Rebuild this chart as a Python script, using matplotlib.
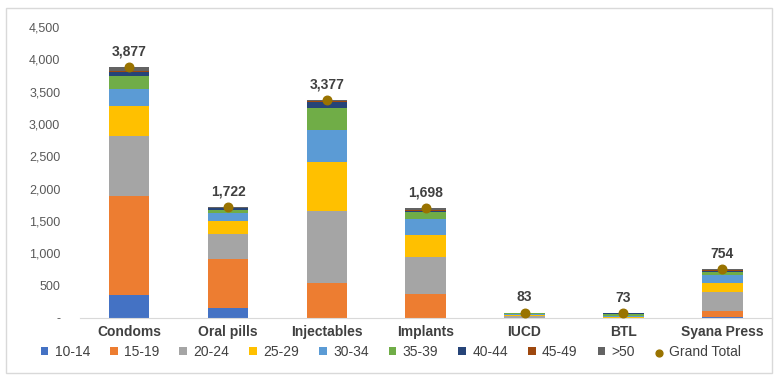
import numpy as np
import matplotlib.pyplot as plt
from matplotlib.ticker import FuncFormatter

plt.rcParams['font.family'] = ['Liberation Sans', 'DejaVu Sans']

methods = ["Condoms", "Oral pills", "Injectables", "Implants", "IUCD", "BTL", "Syana Press"]
age_groups = ["10-14", "15-19", "20-24", "25-29", "30-34", "35-39", "40-44", "45-49", ">50"]

# values per age group, one entry per method
a10_14 = [356, 160, 0, 0, 0, 0, 10]
a15_19 = [1533, 753, 537, 367, 5, 0, 100]
a20_24 = [918, 382, 1124, 582, 20, 5, 290]
a25_29 = [464, 207, 749, 336, 20, 10, 148]
a30_34 = [269, 128, 490, 247, 15, 20, 120]
a35_39 = [206, 42, 346, 104, 15, 25, 41]
a40_44 = [60, 25, 87, 22, 5, 10, 20]
a45_49 = [12, 8, 15, 10, 1, 2, 7]
a50 = [59, 17, 29, 30, 2, 1, 18]

series = [a10_14, a15_19, a20_24, a25_29, a30_34, a35_39, a40_44, a45_49, a50]
colors = ["#4472C4", "#ED7D31", "#A5A5A5", "#FFC000", "#5B9BD5",
          "#70AD47", "#264478", "#9E480E", "#636363"]

fig = plt.figure(figsize=(7.74, 3.75), dpi=100)
ax = fig.add_axes([0.103, 0.152, 0.894, 0.776])

x = np.arange(len(methods))
bottom = np.zeros(len(methods))
for vals, col, lab in zip(series, colors, age_groups):
    ax.bar(x, vals, 0.41, bottom=bottom, color=col, label=lab, zorder=2)
    bottom += np.array(vals)

totals = bottom
ax.scatter(x, totals, s=38, color="#997300", zorder=3, label="Grand Total")
for xi, t in zip(x, totals):
    ax.text(xi, t + 130, f"{int(t):,}", ha="center", va="bottom",
            fontsize=10, fontweight="bold", color="#404040")

ax.set_xlim(-0.5, len(methods) - 0.5)
ax.set_ylim(0, 4500)
ax.set_yticks(np.arange(0, 4501, 500))
ax.yaxis.set_major_formatter(FuncFormatter(lambda v, p: "-" if v == 0 else f"{int(v):,}"))
ax.set_xticks(x)
ax.set_xticklabels(methods, fontsize=10, fontweight="bold", color="#404040")
ax.tick_params(axis="y", labelsize=9, labelcolor="#595959", length=0, pad=14)
ax.tick_params(axis="x", length=0, pad=5)
for s in ["top", "right", "left"]:
    ax.spines[s].set_visible(False)
ax.spines["bottom"].set_color("#D9D9D9")

handles, labels = ax.get_legend_handles_labels()
# bars first, grand total last
order = list(range(1, len(handles))) + [0]
handles = [handles[i] for i in order]
labels = [labels[i] for i in order]
leg = fig.legend(handles, labels, loc="center", bbox_to_anchor=(0.505, 0.062), ncol=10,
                 frameon=False, fontsize=10, handlelength=0.55, handleheight=0.55,
                 handletextpad=0.45, columnspacing=1.45, markerscale=0.8)
for t in leg.get_texts():
    t.set_color("#404040")

# light frame around chart area
fig.patches.append(plt.Rectangle((0.008, 0.005), 0.99, 0.975, transform=fig.transFigure,
                                 fill=False, edgecolor="#D9D9D9", linewidth=1))

fig.savefig("out.png", dpi=100)
